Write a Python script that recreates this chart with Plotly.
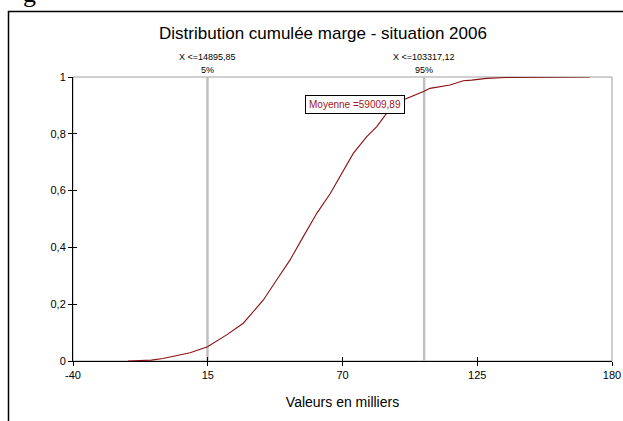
import plotly.graph_objects as go

# Data
cdf_x = [-17.5, -12, -8, -3.3, 2.3, 7.8, 14.9, 22.7, 29.5, 32.2, 37.7, 43.1, 48.6, 54,
         59.5, 65, 69, 74.4, 79.9, 84, 88, 94.7, 103.3, 105.7, 113.9, 119.3, 122.7,
         128.8, 137, 150, 171]
cdf_y = [0, 0.002, 0.003, 0.009, 0.018, 0.029, 0.05, 0.092, 0.133, 0.16, 0.215, 0.285,
         0.356, 0.438, 0.52, 0.59, 0.649, 0.731, 0.79, 0.825, 0.872, 0.919, 0.95, 0.96,
         0.972, 0.987, 0.989, 0.995, 0.998, 0.9995, 1.0]
pct_x = [14.89585, 103.31712]
pct_labels = ["X <=14895,85", "X <=103317,12"]
pct_levels = ["5%", "95%"]
mean_label = "Moyenne =59009,89"
x_ticks = [-40, 15, 70, 125, 180]
x_ticktext = ["-40", "15", "70", "125", "180"]
y_ticks = [0, 0.2, 0.4, 0.6, 0.8, 1]

W, H = 623, 421
# plot area in page pixel coords
PL, PR, PT, PB = 73, 612, 77, 361
L, R, T, B = PL, W - PR, PT, H - PB
pw, ph = PR - PL, PB - PT

def px(xp):
    return (xp - PL) / pw

def py(yp):
    return (PB - yp) / ph

fig = go.Figure()

for xv in pct_x:
    fig.add_trace(go.Scatter(x=[xv, xv], y=[0, 1], mode="lines",
                             line=dict(color="#C0C0C0", width=2.5),
                             hoverinfo="skip", showlegend=False))

fig.add_trace(go.Scatter(x=cdf_x, y=cdf_y, mode="lines",
                         line=dict(color="#8B1010", width=1.1),
                         showlegend=False))

# overlay axes for inside ticks (cross-style ticks)
fig.add_trace(go.Scatter(x=[None], y=[None], xaxis="x2", yaxis="y2", showlegend=False))

font_family = "Liberation Sans, Arial, sans-serif"

def lab(x, y, text, size=9, color="black", **kw):
    return dict(x=x, y=y, text=text, showarrow=False, xanchor="center",
                yanchor="middle", font=dict(size=size, color=color), **kw)

fig.update_layout(
    width=W, height=H, autosize=False,
    margin=dict(l=L, r=R, t=T, b=B, autoexpand=False),
    paper_bgcolor="white", plot_bgcolor="white",
    separators=", ",
    font=dict(family=font_family, size=11, color="black"),
    title=dict(text="Distribution cumulée marge - situation 2006",
               x=323 / W, xanchor="center", y=1 - 33 / H, yanchor="middle",
               font=dict(size=17, color="black")),
    xaxis=dict(range=[-40, 180], tickvals=x_ticks, ticktext=x_ticktext, ticks="outside",
               ticklen=4, tickcolor="black", showline=True, linecolor="black", linewidth=1,
               showgrid=False, zeroline=False, tickfont=dict(size=11), automargin=False,
               title=dict(text="Valeurs en milliers", font=dict(size=14), standoff=16)),
    yaxis=dict(range=[0, 1], tickvals=y_ticks, ticks="outside", ticklen=4,
               tickcolor="black", showline=True, linecolor="black", linewidth=1,
               showgrid=False, zeroline=False, tickfont=dict(size=11), tickformat=".1~f",
               automargin=False),
    xaxis2=dict(range=[-40, 180], overlaying="x", tickvals=x_ticks, ticks="inside",
                ticklen=4, tickcolor="black", showticklabels=False, showgrid=False,
                zeroline=False, showline=False),
    yaxis2=dict(range=[0, 1], overlaying="y", tickvals=y_ticks, ticks="inside",
                ticklen=4, tickcolor="black", showticklabels=False, showgrid=False,
                zeroline=False, showline=False),
    shapes=[
        dict(type="rect", xref="paper", yref="paper", x0=0, x1=1, y0=0, y1=1,
             line=dict(color="#A0A0A0", width=1), layer="below"),
        dict(type="rect", xref="paper", yref="paper", x0=px(8.5), x1=px(640),
             y0=py(440), y1=py(11.5), line=dict(color="black", width=1.5), layer="below"),
    ],
    annotations=[
        lab(pct_x[0], py(57), pct_labels[0], xref="x", yref="paper"),
        lab(pct_x[0], py(70), pct_levels[0], xref="x", yref="paper"),
        lab(pct_x[1], py(57), pct_labels[1], xref="x", yref="paper"),
        lab(pct_x[1], py(70), pct_levels[1], xref="x", yref="paper"),
        lab(px(355), py(104), mean_label, size=10, color="#A01818",
            xref="paper", yref="paper", bgcolor="white", bordercolor="black",
            borderwidth=1, borderpad=3),
        dict(x=px(29), y=py(10), xref="paper", yref="paper", text="g", showarrow=False,
             xanchor="center", yanchor="bottom",
             font=dict(size=26, color="black", family="Liberation Serif")),
    ],
)

fig.write_html("out.html",
               config={"responsive": False, "displayModeBar": False},
               post_script="document.body.style.margin='0';document.body.style.overflow='hidden';")
